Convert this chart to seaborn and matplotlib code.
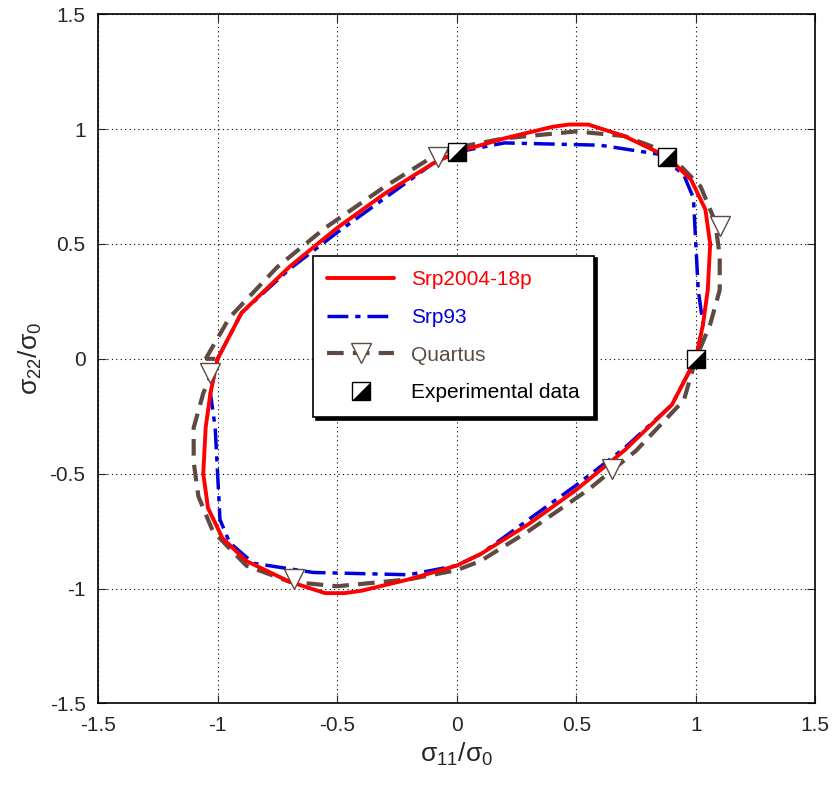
import numpy as np
import matplotlib
matplotlib.use("Agg")
import matplotlib.pyplot as plt
import seaborn as sns
from matplotlib.lines import Line2D

# upper half of each locus (from (-1,0) clockwise to (1,0)); lower half is point-symmetric
srp2004_x = [-1.0, -0.9, -0.7, -0.5, -0.3, -0.1, 0.0, 0.2, 0.4, 0.47, 0.55, 0.7, 0.88, 0.98, 1.04, 1.06, 1.05, 1.03, 1.0]
srp2004_y = [0.0, 0.2, 0.4, 0.57, 0.72, 0.85, 0.9, 0.96, 1.01, 1.02, 1.02, 0.97, 0.88, 0.78, 0.65, 0.5, 0.3, 0.15, 0.0]
srp93_x = [-1.0, -0.9, -0.7, -0.5, -0.3, -0.1, 0.0, 0.2, 0.6, 0.85, 0.95, 0.99, 1.0, 1.01, 1.03, 1.0]
srp93_y = [0.0, 0.2, 0.39, 0.55, 0.7, 0.85, 0.9, 0.94, 0.93, 0.89, 0.8, 0.7, 0.5, 0.3, 0.15, 0.0]
quartus_x = [-1.05, -0.95, -0.75, -0.55, -0.3, -0.1, 0.0, 0.2, 0.5, 0.7, 0.88, 1.02, 1.08, 1.1, 1.1, 1.06, 1.0]
quartus_y = [0.0, 0.18, 0.4, 0.57, 0.75, 0.88, 0.92, 0.96, 0.99, 0.97, 0.9, 0.75, 0.6, 0.45, 0.3, 0.15, 0.0]
quartus_mk_x = [-0.08, 1.1, 0.65, -0.68, -1.03]
quartus_mk_y = [0.88, 0.58, -0.48, -0.96, -0.06]
exp_x = [0.0, 0.88, 1.0]
exp_y = [0.9, 0.88, 0.0]
ticks = [-1.5, -1, -0.5, 0, 0.5, 1, 1.5]
tick_labels = ["-1.5", "-1", "-0.5", "0", "0.5", "1", "1.5"]


def closed(xs, ys):
    xs, ys = np.asarray(xs), np.asarray(ys)
    return np.r_[xs, -xs[1:], xs[:1]], np.r_[ys, -ys[1:], ys[:1]]


sns.set_style("white")
plt.rcParams["font.family"] = ["Liberation Sans", "DejaVu Sans"]

fig, ax = plt.subplots(figsize=(8.38, 7.93), dpi=100)
fig.subplots_adjust(left=0.117, right=0.973, bottom=0.113, top=0.982)

brown = "#5f4a42"
blue = "#0000dd"
x, y = closed(quartus_x, quartus_y)
sns.lineplot(x=x, y=y, sort=False, ax=ax, color=brown, lw=3, dashes=(4, 2.2), estimator=None)
x, y = closed(srp93_x, srp93_y)
ax.plot(x, y, color=blue, lw=2.5, dashes=(6, 2, 1.5, 2))
x, y = closed(srp2004_x, srp2004_y)
ax.plot(x, y, color="red", lw=2.8)
ax.plot(quartus_mk_x, quartus_mk_y, ls="none", marker="v", ms=14, mfc="white", mec=brown, mew=1)
half = [(-1, -1), (1, -1), (1, 1), (-1, -1)]
ax.plot(exp_x, exp_y, ls="none", marker="s", ms=13, mfc="white", mec="black", mew=1)
ax.plot(exp_x, exp_y, ls="none", marker=half, ms=13, mfc="black", mec="black", mew=0)

ax.set_xlim(-1.5, 1.5)
ax.set_ylim(-1.5, 1.5)
ax.set_xticks(ticks, tick_labels)
ax.set_yticks(ticks, tick_labels)
ax.grid(True, color="black", ls=(0, (1, 3)), lw=0.8)
ax.tick_params(axis="both", labelsize=15, direction="in", length=6, pad=9,
               left=True, bottom=True, top=True, right=True)
for s in ax.spines.values():
    s.set_color("black")
    s.set_linewidth(1.2)
ax.set_xlabel(r"$\mathregular{\sigma_{11}/\sigma_0}$", fontsize=19)
ax.set_ylabel(r"$\mathregular{\sigma_{22}/\sigma_0}$", fontsize=19)

exp_handle = (Line2D([], [], ls="none", marker="s", ms=13, mfc="white", mec="black", mew=1),
              Line2D([], [], ls="none", marker=half, ms=13, mfc="black", mec="black", mew=0))
handles = [
    Line2D([], [], color="red", lw=2.8),
    Line2D([], [], color=blue, lw=2.5, dashes=(6, 2, 1.5, 2)),
    Line2D([], [], color=brown, lw=3, dashes=(4, 2.2), marker="v", ms=14, mfc="white", mec=brown, mew=1),
    exp_handle,
]
labels = ["Srp2004-18p", "Srp93", "Quartus", "Experimental data"]
leg = ax.legend(handles, labels, loc="upper left", bbox_to_anchor=(0.285, 0.665), fontsize=15,
                frameon=True, fancybox=False, shadow={"color": "black", "alpha": 1}, edgecolor="black",
                handlelength=3.2, labelspacing=0.9, borderpad=0.7)
leg.get_frame().set_linewidth(1.2)
for t, c in zip(leg.get_texts(), ["red", blue, brown, "black"]):
    t.set_color(c)

fig.savefig("out.png", dpi=100)
